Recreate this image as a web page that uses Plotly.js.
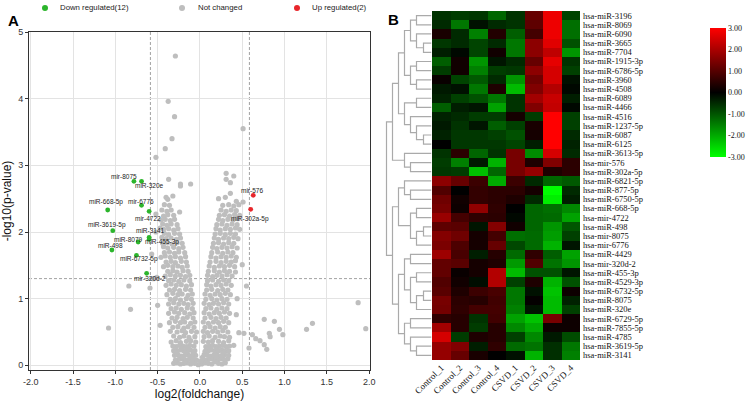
<!DOCTYPE html>
<html><head><meta charset="utf-8">
<script src="https://cdn.plot.ly/plotly-3.0.1.min.js"></script>
<style>html,body{margin:0;padding:0;background:#fff}#chart{width:753px;height:401px}</style>
</head><body><div id="chart"></div>
<script>
// ================= Panel A : volcano plot data =================
const downNames = ['mir-8075','miR-320e','miR-668-5p','mir-6776','mir-4722','miR-3619-5p','miR-3141','miR-455-3p','miR-8079','miR-498','miR-6732-5p','mir-320d-2'];
const downX = [-0.78,-0.69,-1.09,-0.69,-0.60,-1.03,-0.60,-0.60,-0.73,-1.04,-0.75,-0.63];
const downY = [2.76,2.76,2.33,2.40,2.31,2.02,1.92,1.89,1.85,1.73,1.65,1.38];
const upNames = ['mir-576','miR-302a-5p'];
const upX = [0.63,0.60];
const upY = [2.55,2.34];
const grayPoints = [
[-0.02,0.01],[0.02,0.02],[-0.06,0.03],[0.06,0.04],[-0.11,0.02],[0.10,0.03],[-0.15,0.04],[0.14,0.02],[-0.19,0.03],[0.18,0.05],[-0.23,0.02],[0.22,0.03],[-0.27,0.04],[0.26,0.02],[-0.31,0.03],[0.30,0.04],
[-0.04,0.08],[0.04,0.09],[-0.08,0.10],[0.08,0.08],[-0.13,0.09],[0.12,0.10],[-0.17,0.08],[0.16,0.09],[-0.21,0.10],[0.20,0.08],[-0.25,0.09],[0.24,0.10],[-0.29,0.08],[0.28,0.09],[0.33,0.10],
[-0.05,0.15],[0.05,0.16],[-0.10,0.14],[0.09,0.15],[-0.14,0.16],[0.13,0.14],[-0.18,0.15],[0.17,0.16],[-0.22,0.14],[0.21,0.15],[-0.26,0.16],[0.25,0.14],[-0.30,0.15],[0.29,0.16],[0.34,0.15],
[-0.06,0.22],[0.06,0.21],[-0.11,0.23],[0.10,0.22],[-0.15,0.21],[0.14,0.23],[-0.19,0.22],[0.18,0.21],[-0.23,0.23],[0.22,0.22],[-0.27,0.21],[0.26,0.23],[-0.31,0.22],[0.30,0.21],[0.34,0.22],
[-0.07,0.29],[0.07,0.28],[-0.12,0.30],[0.11,0.29],[-0.16,0.28],[0.15,0.30],[-0.20,0.29],[0.19,0.28],[-0.24,0.30],[0.23,0.29],[-0.28,0.28],[0.27,0.30],[-0.32,0.29],[0.31,0.28],[0.35,0.29],
[-0.09,0.06],[0.01,0.06],[-0.20,0.12],[0.19,0.12],[-0.08,0.19],[0.03,0.12],[-0.28,0.19],[0.27,0.19],[-0.13,0.26],[0.12,0.25],[-0.21,0.26],[0.20,0.25],
[-0.05,0.35],[-0.11,0.37],[-0.16,0.36],[-0.23,0.34],[-0.28,0.37],[-0.34,0.35],
[-0.06,0.43],[-0.13,0.42],[-0.19,0.44],[-0.24,0.42],[-0.31,0.44],
[-0.04,0.50],[-0.10,0.51],[-0.17,0.49],[-0.21,0.52],[-0.27,0.50],[-0.35,0.51],
[-0.07,0.57],[-0.14,0.58],[-0.19,0.56],[-0.26,0.58],[-0.32,0.57],
[-0.06,0.65],[-0.11,0.63],[-0.18,0.65],[-0.23,0.64],[-0.29,0.66],[-0.36,0.64],
[-0.08,0.71],[-0.15,0.72],[-0.20,0.70],[-0.27,0.72],[-0.33,0.71],
[-0.07,0.79],[-0.12,0.77],[-0.18,0.79],[-0.25,0.78],[-0.30,0.80],[-0.37,0.78],
[-0.09,0.85],[-0.15,0.86],[-0.22,0.84],[-0.28,0.86],[-0.34,0.85],
[-0.08,0.93],[-0.14,0.91],[-0.19,0.93],[-0.25,0.92],[-0.31,0.94],[-0.37,0.92],
[-0.10,0.99],[-0.16,1.00],[-0.23,0.98],[-0.29,1.00],[-0.35,0.99],
[-0.09,1.07],[-0.14,1.05],[-0.21,1.07],[-0.26,1.06],[-0.32,1.08],[-0.39,1.06],
[-0.11,1.13],[-0.17,1.14],[-0.24,1.12],[-0.30,1.14],[-0.36,1.13],
[-0.10,1.21],[-0.16,1.19],[-0.22,1.21],[-0.28,1.20],[-0.34,1.22],[-0.40,1.20],
[-0.12,1.27],[-0.19,1.28],[-0.25,1.26],[-0.31,1.28],[-0.37,1.27],
[-0.12,1.35],[-0.17,1.33],[-0.23,1.35],[-0.29,1.34],[-0.35,1.36],[-0.41,1.34],
[-0.14,1.41],[-0.20,1.42],[-0.27,1.40],[-0.32,1.42],[-0.38,1.41],
[-0.15,1.49],[-0.21,1.47],[-0.26,1.49],[-0.32,1.48],[-0.38,1.50],[-0.43,1.48],
[-0.16,1.55],[-0.22,1.56],[-0.29,1.54],[-0.34,1.56],[-0.40,1.55],
[-0.17,1.63],[-0.23,1.61],[-0.29,1.63],[-0.35,1.62],[-0.41,1.64],[-0.46,1.62],
[-0.18,1.69],[-0.25,1.70],[-0.30,1.68],[-0.36,1.70],[-0.42,1.69],
[-0.20,1.77],[-0.25,1.75],[-0.31,1.77],[-0.38,1.76],[-0.43,1.78],
[-0.21,1.83],[-0.27,1.84],[-0.33,1.82],[-0.39,1.84],[-0.44,1.83],
[-0.23,1.91],[-0.28,1.89],[-0.34,1.91],[-0.40,1.90],[-0.45,1.92],
[-0.24,1.97],[-0.30,1.98],[-0.37,1.96],[-0.42,1.98],
[-0.26,2.05],[-0.31,2.03],[-0.37,2.05],[-0.43,2.04],[-0.47,2.06],
[-0.27,2.11],[-0.34,2.12],[-0.39,2.10],[-0.44,2.12],
[-0.30,2.19],[-0.35,2.17],[-0.41,2.19],[-0.46,2.18],
[-0.31,2.25],[-0.38,2.26],[-0.43,2.24],
[-0.34,2.33],[-0.39,2.31],[-0.45,2.33],
[-0.36,2.40],[-0.42,2.41],
[0.04,0.36],[0.10,0.35],[0.15,0.37],[0.22,0.36],[0.28,0.34],[0.34,0.37],
[0.05,0.43],[0.11,0.44],[0.18,0.42],[0.24,0.44],[0.29,0.43],[0.35,0.42],
[0.04,0.51],[0.09,0.49],[0.15,0.51],[0.21,0.50],[0.27,0.52],[0.33,0.50],
[0.06,0.57],[0.12,0.58],[0.18,0.56],[0.24,0.58],[0.30,0.57],
[0.04,0.65],[0.10,0.63],[0.16,0.65],[0.22,0.64],[0.28,0.66],[0.34,0.64],
[0.06,0.71],[0.13,0.72],[0.19,0.70],[0.25,0.72],[0.31,0.71],
[0.05,0.79],[0.11,0.77],[0.17,0.79],[0.23,0.78],[0.29,0.80],[0.35,0.78],
[0.07,0.85],[0.13,0.86],[0.20,0.84],[0.26,0.86],[0.32,0.85],
[0.05,0.93],[0.11,0.91],[0.16,0.93],[0.22,0.92],[0.28,0.94],[0.34,0.92],
[0.07,0.99],[0.14,1.00],[0.20,0.98],[0.26,1.00],[0.32,0.99],
[0.06,1.07],[0.12,1.05],[0.18,1.07],[0.24,1.06],[0.30,1.08],[0.36,1.06],
[0.08,1.13],[0.14,1.14],[0.21,1.12],[0.27,1.14],[0.33,1.13],
[0.08,1.21],[0.13,1.19],[0.19,1.21],[0.25,1.20],[0.31,1.22],[0.37,1.20],
[0.09,1.27],[0.15,1.28],[0.22,1.26],[0.28,1.28],[0.34,1.27],
[0.09,1.35],[0.15,1.33],[0.20,1.35],[0.26,1.34],[0.32,1.36],[0.38,1.34],
[0.10,1.41],[0.17,1.42],[0.23,1.40],[0.29,1.42],[0.35,1.41],
[0.11,1.49],[0.17,1.47],[0.23,1.49],[0.29,1.48],[0.35,1.50],[0.41,1.48],
[0.12,1.55],[0.19,1.56],[0.25,1.54],[0.31,1.56],[0.37,1.55],[0.42,1.57],
[0.13,1.63],[0.19,1.61],[0.25,1.63],[0.31,1.62],[0.37,1.64],[0.43,1.62],
[0.14,1.69],[0.21,1.70],[0.27,1.68],[0.33,1.70],[0.39,1.69],
[0.15,1.77],[0.20,1.75],[0.26,1.77],[0.32,1.76],[0.38,1.78],[0.44,1.76],
[0.16,1.83],[0.22,1.84],[0.28,1.82],[0.34,1.84],[0.40,1.83],
[0.17,1.91],[0.22,1.89],[0.28,1.91],[0.34,1.90],[0.40,1.92],[0.45,1.90],
[0.18,1.97],[0.24,1.98],[0.30,1.96],[0.36,1.98],[0.42,1.97],
[0.19,2.05],[0.24,2.03],[0.30,2.05],[0.36,2.04],[0.42,2.06],[0.47,2.04],
[0.20,2.11],[0.26,2.12],[0.32,2.10],[0.38,2.12],[0.44,2.11],
[0.22,2.19],[0.27,2.17],[0.33,2.19],[0.39,2.18],[0.45,2.20],
[0.23,2.25],[0.29,2.26],[0.35,2.24],[0.41,2.26],[0.47,2.25],
[0.25,2.33],[0.31,2.31],[0.37,2.33],[0.43,2.32],
[0.27,2.40],[0.34,2.41],[0.40,2.39],[0.46,2.41],
[-0.29,4.64],[-0.375,3.96],[-0.30,3.73],[-0.33,3.40],[-0.41,3.25],[-0.52,3.12],[0.51,3.55],
[-0.37,2.79],[-0.23,2.72],[-0.23,2.69],[-0.11,2.72],[-0.40,2.52],[-0.38,2.49],[-0.32,2.54],
[0.31,2.88],[0.40,2.84],[0.31,2.79],[0.36,2.74],[0.36,2.58],[0.30,2.52],[0.22,2.50],[0.43,2.46],
[0.51,2.45],[-0.24,2.30],[-0.52,2.27],[-0.57,1.67],[-0.59,1.16],[-0.82,0.84],[-0.84,1.19],[-1.08,0.56],
[-0.55,1.30],[-0.51,1.32],[-0.50,0.90],[-0.47,0.60],[-0.52,2.00],
[1.87,0.94],[1.33,0.63],[1.26,0.54],[0.98,0.46],[0.94,0.54],[0.88,0.66],[0.76,0.69],[0.82,0.48],
[0.83,0.43],[0.71,0.37],[0.66,0.40],[0.76,0.31],[0.79,0.24],[0.62,0.46],[0.58,0.26],[0.52,0.48],
[0.46,0.49],[0.55,1.19],[0.43,0.76],[0.50,1.51],[1.96,0.55],[0.42,1.40],[0.44,1.00],[0.40,0.30]
];
const xTickVals = [-2,-1.5,-1,-0.5,0,0.5,1,1.5,2];
const xTickText = ['-2.0','-1.5','-1.0','-0.5','0.0','0.5','1.0','1.5','2.0'];
const yTickVals = [0,1,2,3,4,5];
const yTickText = ['0','1','2','3','4','5'];
const foldCut = 0.585, pCut = 1.301;
const legendNames = ['Down regulated(12)','Not changed','Up regulated(2)'];

// ================= Panel B : heatmap data =================
const samples = ['Control_1','Control_2','Control_3','Control_4','CSVD_1','CSVD_2','CSVD_3','CSVD_4'];
const mirnas = ['hsa-miR-3196','hsa-miR-8069','hsa-miR-6090','hsa-miR-3665','hsa-miR-7704','hsa-miR-1915-3p','hsa-miR-6786-5p','hsa-miR-3960','hsa-miR-4508','hsa-miR-6089','hsa-miR-4466','hsa-miR-4516','hsa-miR-1237-5p','hsa-miR-6087','hsa-miR-6125','hsa-miR-3613-5p','hsa-mir-576','hsa-miR-302a-5p','hsa-miR-6821-5p','hsa-miR-877-5p','hsa-miR-6750-5p','hsa-miR-668-5p','hsa-mir-4722','hsa-miR-498','hsa-mir-8075','hsa-mir-6776','hsa-miR-4429','hsa-mir-320d-2','hsa-miR-455-3p','hsa-miR-4529-3p','hsa-miR-6732-5p','hsa-miR-8075','hsa-miR-320e','hsa-miR-6729-5p','hsa-miR-7855-5p','hsa-miR-4785','hsa-miR-3619-5p','hsa-miR-3141'];
const heatValues = [
[-0.6,-0.7,-0.65,-1.2,-0.6,1.2,2.8,-0.8],
[-0.5,-1.4,-0.2,-0.5,-0.6,1.1,2.8,-1.3],
[0.3,-0.5,-1.5,0.4,-1.1,0.8,2.8,-1.3],
[-0.65,-0.5,-0.8,-0.5,-1.4,1.65,2.65,-0.95],
[-0.35,-0.1,-0.8,0.2,-1.4,1.65,2.25,-1.75],
[-1.1,0.2,-1.75,-0.25,-0.5,1.2,2.7,-0.6],
[-0.7,0.2,-1.5,-0.7,-0.65,1.65,2.5,-0.75],
[0.1,-0.8,-1.05,-0.5,-1.75,1.3,2.5,-0.2],
[-0.3,-0.2,-1.4,0.35,-2.2,1.5,2.1,-0.1],
[-0.4,-0.75,-0.95,-1.4,-0.6,1.9,2.35,-0.35],
[-1.1,-0.35,-0.25,-1.9,-0.6,1.5,2.3,-0.1],
[-0.4,-0.5,-0.7,-0.7,0.25,-0.7,3.0,-0.75],
[-0.3,-0.6,-0.25,-1.1,-0.75,0.3,3.0,-0.75],
[-0.4,-0.65,-0.65,-0.75,-0.95,0.25,3.0,-0.5],
[0.0,-0.65,-0.65,-0.65,-0.8,-0.35,3.0,-0.4],
[-0.6,0.5,-1.2,-0.6,1.4,-1.65,2.5,-0.5],
[-0.7,-1.5,-0.3,-2.1,1.4,0.35,1.5,0.5],
[-0.65,-0.7,-2.25,-1.2,1.4,1.75,0.35,0.5],
[1.65,1.2,0.7,-2.0,0.7,-0.5,-1.2,-1.05],
[0.95,0.0,0.6,0.5,0.5,0.25,-3.0,-0.5],
[1.3,0.2,0.6,0.5,0.35,-0.5,-2.8,-0.35],
[1.4,0.15,1.7,0.55,0.0,-1.2,-1.3,-1.6],
[1.8,0.8,0.55,0.5,-0.1,-1.2,-1.25,-1.9],
[1.1,1.05,-0.25,1.55,0.2,-1.2,-1.75,-1.0],
[1.55,1.3,0.25,0.8,-1.3,-1.25,-1.85,-0.75],
[1.45,0.9,0.25,1.2,-0.85,-1.25,-2.1,-0.25],
[1.85,0.85,-0.35,0.45,-1.25,0.55,-1.1,-1.9],
[1.15,1.05,0.25,0.35,-1.8,0.95,-1.35,-1.75],
[1.15,0.1,0.25,2.1,-2.2,-0.95,-0.95,-0.25],
[0.95,0.2,-0.15,2.1,-0.75,0.35,-2.1,-0.95],
[1.05,0.35,0.7,0.85,-1.4,-0.2,-2.3,0.15],
[1.4,0.5,0.45,0.75,-1.4,0.05,-2.2,-0.4],
[1.35,0.55,0.8,0.8,-1.5,-0.25,-2.2,-0.75],
[0.55,0.45,-0.6,0.75,-1.9,-2.3,1.4,0.15],
[1.9,0.45,-0.7,0.45,-1.6,-2.0,0.15,0.15],
[2.5,-0.7,0.35,0.45,-0.75,-1.6,-0.3,-0.9],
[1.75,1.5,-0.35,0.55,-1.25,-1.35,-0.55,-1.4],
[1.75,1.2,0.3,0.0,-0.2,-2.1,-0.55,-1.5]
];
// row clustering: [left, right, height]; numbers = row index, 'mK' = merge K
const dendroMerges = [
[0,1,15],[3,4,8],[2,'m1',15],['m0','m2',21],[5,6,15],[7,8,15],['m4','m5',21],['m3','m6',27],
[9,10,15],[13,14,8],[12,'m9',15],[11,'m10',21],['m8','m11',27],['m7','m12',33],
[16,17,21],[15,'m14',27],['m13','m15',39],
[19,20,21],[18,'m17',27],[21,22,15],[23,24,8],['m20',25,15],['m19','m21',21],['m18','m22',33],
[26,27,21],[28,29,15],[30,31,8],['m26',32,15],['m25','m27',21],['m24','m28',27],
[33,34,21],[36,37,15],[35,'m31',21],['m30','m32',27],['m29','m33',33],['m23','m34',39],
['m16','m35',45]
];
const cbTickVals = [-3,-2,-1,0,1,2,3];
const cbTickText = ['-3.00','-2.00','-1.00','0.00','1.00','2.00','3.00'];

// ================= build =================
const W = 753, H = 401;
const px = v => v / W, py = v => 1 - v / H;
const SANS = 'Liberation Sans, Arial, sans-serif';
const SERIF = 'Liberation Serif, Times New Roman, serif';
const GREEN = '#2cb52c', RED = '#e8262b', GRAY = '#bebebe';

const traces = [];
traces.push({type:'scatter', mode:'markers', x: grayPoints.map(p=>p[0]), y: grayPoints.map(p=>p[1]),
  marker:{color:GRAY, size:5.2}, xaxis:'x', yaxis:'y', hoverinfo:'skip', showlegend:false});
traces.push({type:'scatter', mode:'markers', x: downX, y: downY, text: downNames,
  marker:{color:GREEN, size:4.8}, xaxis:'x', yaxis:'y', showlegend:false});
traces.push({type:'scatter', mode:'markers', x: upX, y: upY, text: upNames,
  marker:{color:RED, size:4.8}, xaxis:'x', yaxis:'y', showlegend:false});

// heatmap
const rowIdx = mirnas.map((_,i)=>i);
traces.push({type:'heatmap', z: heatValues, x: samples, y: rowIdx, xaxis:'x2', yaxis:'y2',
  zmin:-3, zmax:3, colorscale:[[0,'#00ff00'],[0.5,'#000000'],[1,'#ff0000']],
  colorbar:{x:px(710), xanchor:'left', y:py(28), yanchor:'top', len:129/H, lenmode:'fraction',
    thickness:16, thicknessmode:'pixels', outlinewidth:0, xpad:0, ypad:0,
    tickvals:cbTickVals, ticktext:cbTickText, ticks:'', tickfont:{family:SERIF, size:8, color:'#111'}},
  hoverinfo:'skip'});

// dendrogram
const nodes = {};
const getNode = r => (typeof r === 'number') ? {y:r, h:0} : nodes[r];
const dX = [], dY = [];
dendroMerges.forEach((m,i)=>{
  const a = getNode(m[0]), b = getNode(m[1]), h = m[2];
  dX.push(a.h, h, h, b.h, null); dY.push(a.y, a.y, b.y, b.y, null);
  nodes['m'+i] = {y:(a.y+b.y)/2, h:h};
});
traces.push({type:'scatter', mode:'lines', x:dX, y:dY, xaxis:'x3', yaxis:'y2',
  line:{color:'#aaaaaa', width:1.2}, hoverinfo:'skip', showlegend:false, connectgaps:false});

// annotations
const annotations = [];
const downShift = [[-10,5],[8,-4],[-2,8],[-1,4],[-1,-7],[-5.5,6],[1,7],[13,-3],[-10,3],[-1,5],[3,-4],[3,-5]];
const upShift = [[-1,5],[-1,-9.5]];
downNames.forEach((n,i)=>annotations.push({x:downX[i], y:downY[i], xref:'x', yref:'y', text:n, showarrow:false,
  xshift:downShift[i][0], yshift:downShift[i][1], font:{family:SANS, size:6.5, color:'#222'}}));
upNames.forEach((n,i)=>annotations.push({x:upX[i], y:upY[i], xref:'x', yref:'y', text:n, showarrow:false,
  xshift:upShift[i][0], yshift:upShift[i][1], font:{family:SANS, size:6.5, color:'#222'}}));
// legend (panel A)
const legendDot = [45,182,297], legendText = [58,196,310], legendCol = [GREEN, GRAY, RED];
const shapes = [];
legendNames.forEach((n,i)=>{
  annotations.push({x:px(legendText[i]), y:py(8), xref:'paper', yref:'paper', xanchor:'left', yanchor:'middle',
    text:n, showarrow:false, font:{family:SANS, size:7.8, color:'#222'}});
  shapes.push({type:'circle', xref:'paper', yref:'paper', x0:px(legendDot[i]-3), x1:px(legendDot[i]+3),
    y0:py(11), y1:py(5), fillcolor:legendCol[i], line:{width:0}});
});
annotations.push({x:px(6), y:py(10), xref:'paper', yref:'paper', text:'<b>A</b>', showarrow:false,
  font:{family:SANS, size:15, color:'#000'}});
annotations.push({x:px(393), y:py(9), xref:'paper', yref:'paper', text:'<b>B</b>', showarrow:false,
  font:{family:SANS, size:15, color:'#000'}});

// threshold lines
[[-foldCut,-foldCut,-0.07,5],[foldCut,foldCut,-0.07,5],[-2.02,2.01,pCut,pCut]].forEach(s=>{
  shapes.push({type:'line', xref:'x', yref:'y', x0:s[0], x1:s[1], y0:s[2], y1:s[3],
    line:{color:'#7a7a7a', width:0.7, dash:'3px,2px'}, layer:'below'});
});

const layout = {
  width:W, height:H, margin:{l:0,r:0,t:0,b:0}, paper_bgcolor:'#fff', plot_bgcolor:'#fff', showlegend:false,
  xaxis:{domain:[px(29),px(370)], range:[-2.02,2.01], anchor:'y', tickvals:xTickVals, ticktext:xTickText,
    ticks:'outside', ticklen:3, tickcolor:'#333', showline:true, linecolor:'#333', linewidth:1, mirror:true,
    showgrid:true, gridcolor:'#e3e3e3', gridwidth:1, zeroline:false,
    tickfont:{family:SANS, size:9, color:'#333'},
    title:{text:'log2(foldchange)', font:{family:SANS, size:12, color:'#111'}, standoff:3}},
  yaxis:{domain:[py(370),py(32)], range:[-0.07,5.0], anchor:'x', tickvals:yTickVals, ticktext:yTickText,
    ticks:'outside', ticklen:3, tickcolor:'#333', showline:true, linecolor:'#333', linewidth:1, mirror:true,
    showgrid:true, gridcolor:'#e3e3e3', gridwidth:1, zeroline:false,
    tickfont:{family:SANS, size:9, color:'#333'},
    title:{text:'-log10(p-value)', font:{family:SANS, size:12, color:'#111'}, standoff:3}},
  xaxis2:{domain:[px(432),px(580)], anchor:'y2', tickangle:-45, ticks:'', showgrid:false, zeroline:false,
    showline:false, tickfont:{family:SERIF, size:9, color:'#111'}},
  yaxis2:{domain:[py(360),py(11)], anchor:'x2', range:[37.5,-0.5], side:'right', tickvals:rowIdx, ticktext:mirnas,
    ticks:'', showgrid:false, zeroline:false, showline:false, ticklabelstandoff:2,
    tickfont:{family:SERIF, size:8.5, color:'#111'}},
  xaxis3:{domain:[px(383),px(431.5)], anchor:'y2', range:[48.5,0], visible:false, showgrid:false, zeroline:false},
  annotations:annotations, shapes:shapes
};
Plotly.newPlot('chart', traces, layout, {displayModeBar:false, staticPlot:true});
</script>
</body></html>
